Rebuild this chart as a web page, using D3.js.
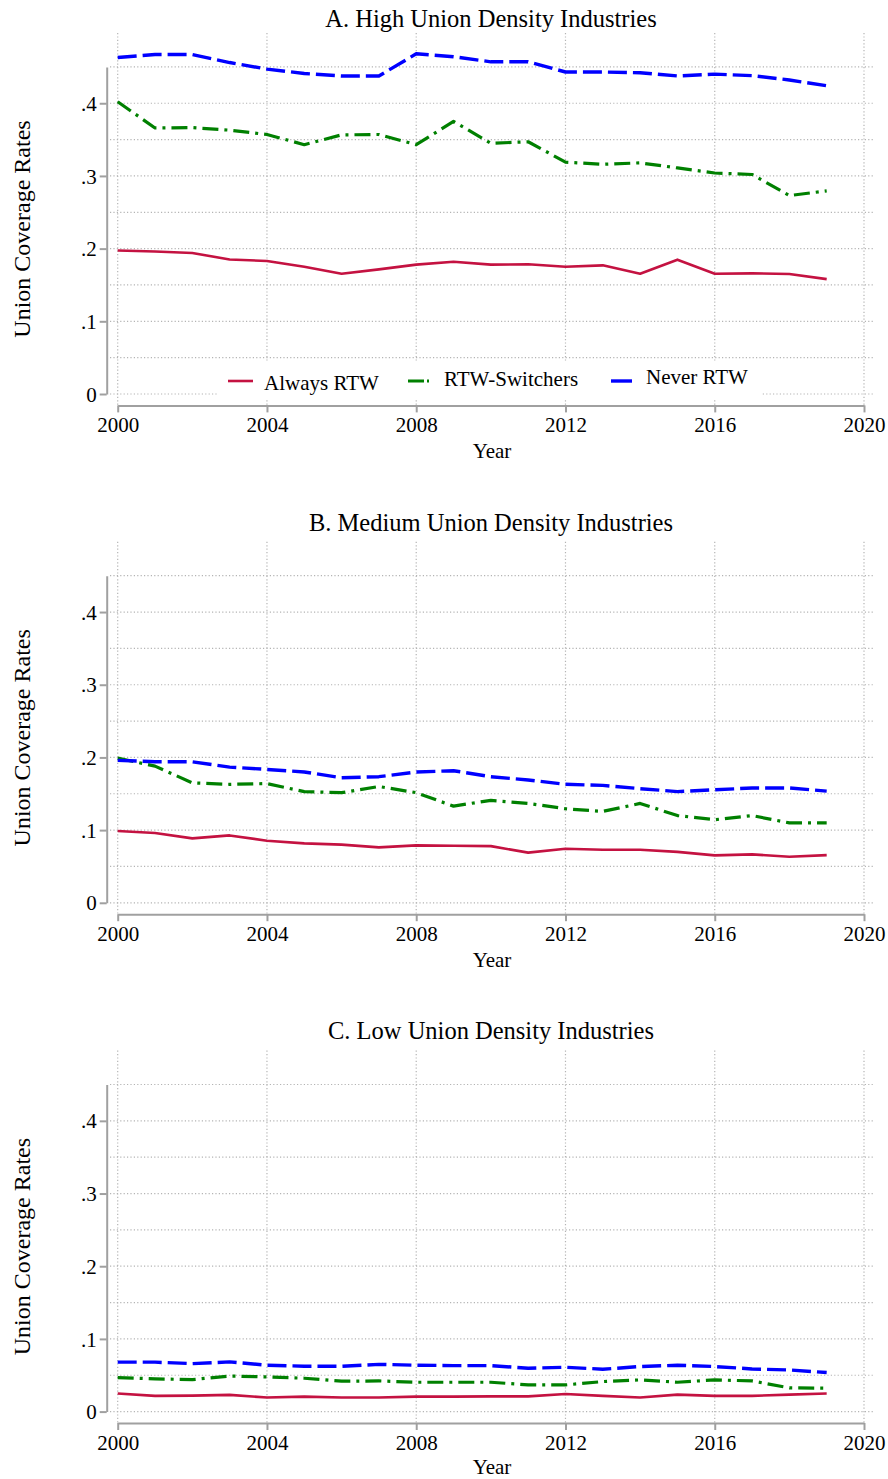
<!DOCTYPE html>
<html>
<head>
<meta charset="utf-8">
<script src="https://cdn.jsdelivr.net/npm/d3@7"></script>
<style>
  body { margin: 0; background: #fff; }
  svg text { font-family: "Liberation Serif", "Times New Roman", serif; fill: #000; }
</style>
</head>
<body>
<svg id="chart"></svg>
<script>
let width = 888;
let height = 1479;

// data
const years = d3.range(2000, 2020);

const highAlways = [0.1975, 0.196, 0.194, 0.185, 0.183, 0.175, 0.1655, 0.1715, 0.178, 0.182,
                    0.178, 0.1785, 0.175, 0.177, 0.1655, 0.1848, 0.1655, 0.166, 0.165, 0.158];
const highSwitch = [0.402, 0.366, 0.3665, 0.363, 0.357, 0.343, 0.3565, 0.357, 0.343, 0.375,
                    0.345, 0.347, 0.319, 0.316, 0.318, 0.311, 0.304, 0.302, 0.273, 0.2795];
const highNever  = [0.463, 0.467, 0.467, 0.456, 0.447, 0.441, 0.4375, 0.4375, 0.468, 0.464,
                    0.457, 0.457, 0.443, 0.443, 0.442, 0.4375, 0.440, 0.438, 0.432, 0.424];

const medAlways = [0.0987, 0.096, 0.0886, 0.0927, 0.0854, 0.0817, 0.080, 0.0762, 0.079, 0.0785,
                   0.078, 0.069, 0.0744, 0.073, 0.073, 0.070, 0.0652, 0.0666, 0.0634, 0.0656];
const medSwitch = [0.199, 0.188, 0.165, 0.163, 0.164, 0.153, 0.1515, 0.160, 0.1515, 0.133,
                   0.141, 0.1367, 0.1294, 0.1257, 0.1367, 0.120, 0.1143, 0.120, 0.110, 0.110];
const medNever  = [0.196, 0.194, 0.194, 0.1867, 0.1835, 0.180, 0.172, 0.1735, 0.180, 0.1817,
                   0.1735, 0.169, 0.163, 0.1615, 0.157, 0.153, 0.1555, 0.158, 0.158, 0.1537];

const lowAlways = [0.0248, 0.0216, 0.022, 0.023, 0.0193, 0.0206, 0.0193, 0.0193, 0.0206, 0.0206,
                   0.021, 0.021, 0.0243, 0.0216, 0.0193, 0.0234, 0.0216, 0.0216, 0.0234, 0.0248];
const lowSwitch = [0.0468, 0.045, 0.044, 0.049, 0.0477, 0.0459, 0.0418, 0.0422, 0.0404, 0.0404,
                   0.0404, 0.0367, 0.0367, 0.0413, 0.0436, 0.0404, 0.0436, 0.0422, 0.0326, 0.0322];
const lowNever  = [0.068, 0.068, 0.066, 0.0684, 0.0638, 0.0624, 0.0624, 0.065, 0.0638, 0.0633,
                   0.0633, 0.0597, 0.061, 0.0583, 0.062, 0.0638, 0.062, 0.0587, 0.0573, 0.0537];

const panelTitles = ["A. High Union Density Industries",
                     "B. Medium Union Density Industries",
                     "C. Low Union Density Industries"];
const seriesNames = ["Always RTW", "RTW-Switchers", "Never RTW"];
const xTicks = [2000, 2004, 2008, 2012, 2016, 2020];
const yTicks = [0, 0.1, 0.2, 0.3, 0.4];
const yGrid = d3.range(0, 0.451, 0.05);

// styles for each series
const styles = [
  { color: "#c41241", width: 2.6, dash: null },
  { color: "#008000", width: 3.2, dash: "16,6,3,6" },
  { color: "#0000ff", width: 3.4, dash: "19,6" }
];

const panels = [
  { title: panelTitles[0], data: [highAlways, highSwitch, highNever], legend: true, titleY: 26.5 },
  { title: panelTitles[1], data: [medAlways, medSwitch, medNever], legend: false, titleY: 530.5 },
  { title: panelTitles[2], data: [lowAlways, lowSwitch, lowNever], legend: false, titleY: 1038.5 }
];

let svg = d3.select("#chart")
  .attr("width", width)
  .attr("height", height);

svg.append("rect").attr("width", width).attr("height", height).attr("fill", "#fff");

let x = d3.scaleLinear()
  .domain([2000, 2020])
  .range([117.7, 864]);

const panelStep = 508.8;
const gridColor = "#b4b4b4";
const axisColor = "#a0a0a0";

panels.forEach((p, i) => {
  let off = i * panelStep;
  let y = d3.scaleLinear()
    .domain([0, 0.45])
    .range([off + 394, off + 66.9]);

  let g = svg.append("g");

  // title
  g.append("text")
    .attr("x", 491)
    .attr("y", p.titleY)
    .attr("text-anchor", "middle")
    .attr("font-size", 24.5)
    .text(p.title);

  // gridlines
  g.append("g").selectAll("line")
    .data(yGrid)
    .enter()
    .append("line")
      .attr("x1", 110)
      .attr("x2", 874)
      .attr("y1", d => y(d))
      .attr("y2", d => y(d))
      .attr("stroke", gridColor)
      .attr("stroke-width", 1.2)
      .attr("stroke-dasharray", "1.2,2.2");

  g.append("g").selectAll("line")
    .data(xTicks)
    .enter()
    .append("line")
      .attr("x1", d => x(d))
      .attr("x2", d => x(d))
      .attr("y1", off + 33)
      .attr("y2", off + 405)
      .attr("stroke", gridColor)
      .attr("stroke-width", 1.2)
      .attr("stroke-dasharray", "1.2,2.2");

  // legend box (panel A only) - masks the gridline at zero
  if (p.legend) {
    let lg = g.append("g");
    lg.append("rect")
      .attr("x", 217)
      .attr("y", off + 361)
      .attr("width", 545)
      .attr("height", 39)
      .attr("fill", "#fff");
    const lx = [228, 408, 611];
    const tx = [264, 444, 646];
    const ty = [390, 386, 384];
    seriesNames.forEach((name, k) => {
      lg.append("line")
        .attr("x1", lx[k])
        .attr("x2", lx[k] + (k === 0 ? 25 : 21))
        .attr("y1", off + 381)
        .attr("y2", off + 381)
        .attr("stroke", styles[k].color)
        .attr("stroke-width", styles[k].width)
        .attr("stroke-dasharray", k === 1 ? "16,3,2,20" : null);
      lg.append("text")
        .attr("x", tx[k])
        .attr("y", off + ty[k])
        .attr("font-size", 21)
        .text(name);
    });
  }

  // axes
  let yAxis = d3.axisLeft(y).tickValues(yTicks).tickSize(7).tickSizeOuter(0)
    .tickFormat(d => d === 0 ? "0" : d3.format(".1f")(d).replace(/^0/, ""));
  let ya = g.append("g")
    .attr("transform", "translate(106.7,0)")
    .call(yAxis);
  ya.select(".domain").attr("stroke", axisColor).attr("stroke-width", 2);
  ya.selectAll(".tick line").attr("stroke", axisColor).attr("stroke-width", 2);
  ya.selectAll(".tick text")
    .attr("font-size", 21)
    .attr("x", -10)
    .attr("dy", "0.34em");
  ya.attr("font-family", null);

  let xAxis = d3.axisBottom(x).tickValues(xTicks).tickSize(7).tickSizeOuter(0)
    .tickFormat(d3.format("d"));
  let xa = g.append("g")
    .attr("transform", `translate(0,${off + 405.4})`)
    .call(xAxis);
  xa.select(".domain").attr("stroke", axisColor).attr("stroke-width", 2);
  xa.selectAll(".tick line").attr("stroke", axisColor).attr("stroke-width", 2);
  xa.selectAll(".tick text")
    .attr("font-size", 21)
    .attr("y", 0)
    .attr("dy", 0)
    .attr("transform", "translate(0,26.8)");
  xa.attr("font-family", null);

  // axis titles
  g.append("text")
    .attr("x", 492)
    .attr("y", Math.min(off + 458, height - 5))
    .attr("text-anchor", "middle")
    .attr("font-size", 21)
    .text("Year");

  g.append("text")
    .attr("transform", `translate(30,${off + 229}) rotate(-90)`)
    .attr("text-anchor", "middle")
    .attr("font-size", 24)
    .text("Union Coverage Rates");

  // lines
  let line = d3.line()
    .x((d, k) => x(years[k]))
    .y(d => y(d));

  p.data.forEach((vals, k) => {
    g.append("path")
      .datum(vals)
      .attr("fill", "none")
      .attr("stroke", styles[k].color)
      .attr("stroke-width", styles[k].width)
      .attr("stroke-dasharray", styles[k].dash)
      .attr("stroke-linejoin", "round")
      .attr("d", line);
  });
});
</script>
</body>
</html>
